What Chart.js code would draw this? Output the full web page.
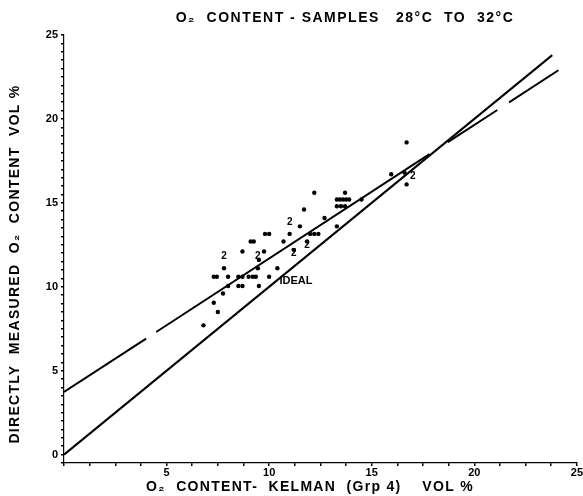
<!DOCTYPE html>
<html lang="en">
  <head>
    <meta charset="UTF-8" />
    <title>O2 content</title>
    <script src="https://cdn.jsdelivr.net/npm/chart.js"></script>
    <style>
      body {
        margin: 0;
        background: #fff;
      }
    </style>
  </head>
  <body>
    <canvas id="myChart" width="583" height="496"></canvas>
    <script>
      // Kelman (Grp 4) O2 content vs directly measured O2 content, vol %
      const kelmanX = [
        6.8, 7.5, 7.3, 7.75, 8.0, 8.5, 8.7, 9.5, 7.3, 7.45, 8.0, 8.5, 8.7, 9.0,
        9.2, 9.35, 10.0, 7.8, 9.45, 10.4, 9.5, 8.7, 9.75, 11.2, 9.1, 9.25, 10.7,
        11.85, 9.8, 10.0, 11.0, 12.0, 12.2, 12.4, 11.5, 13.3, 12.7, 11.7, 13.3,
        13.5, 13.7, 13.3, 13.45, 13.6, 13.75, 13.9, 14.5, 12.2, 13.7, 15.95,
        16.6, 16.7, 16.7,
      ];
      const measuredY = [
        7.7, 8.5, 9.05, 9.6, 10.05, 10.05, 10.05, 10.05, 10.6, 10.6, 10.6, 10.6,
        10.6, 10.6, 10.6, 10.6, 10.6, 11.1, 11.1, 11.1, 11.6, 12.1, 12.1, 12.2,
        12.7, 12.7, 12.7, 12.7, 13.15, 13.15, 13.15, 13.15, 13.15, 13.15, 13.6,
        13.6, 14.1, 14.6, 14.8, 14.8, 14.8, 15.2, 15.2, 15.2, 15.2, 15.2, 15.2,
        15.6, 15.6, 16.7, 16.8, 16.1, 18.6,
      ];
      // points marked "2" (two coincident samples)
      const twoX = [7.8, 9.45, 11.0, 11.2, 11.85, 17.0];
      const twoY = [11.8, 11.8, 13.85, 12.0, 12.45, 16.6];

      const idealX = [0, 23.8];
      const idealY = [0, 23.8];
      const regressionX = [0, 24.1];
      const regressionY = [3.73, 22.9];

      const xTickStep = 1.25;
      const yTickStep = 0.5;

      const chartTitle = "O\u2082  CONTENT - SAMPLES   28°C  TO  32°C";
      const xTitle = "O\u2082  CONTENT-  KELMAN  (Grp 4)    VOL %";
      const yTitle = "DIRECTLY  MEASURED  O\u2082  CONTENT  VOL %";

      const font = "'Liberation Sans', 'DejaVu Sans', sans-serif";
      Chart.defaults.color = "#000";
      Chart.defaults.font.family = font;

      const toPoints = function (xs, ys) {
        return xs.map((x, i) => ({ x: x, y: ys[i] }));
      };

      const textPlugin = {
        id: "texts",
        afterDatasetsDraw(chart) {
          const c = chart.ctx;
          const sx = chart.scales.x;
          const sy = chart.scales.y;
          c.save();
          c.fillStyle = "#000";
          c.textBaseline = "middle";
          c.font = "bold 10px " + font;
          c.textAlign = "center";
          twoX.forEach((x, i) => {
            c.fillText("2", sx.getPixelForValue(x), sy.getPixelForValue(twoY[i]));
          });
          c.textAlign = "left";
          c.font = "bold 11px " + font;
          c.fillText("IDEAL", sx.getPixelForValue(10.5), sy.getPixelForValue(10.35));

          // titles, drawn here so they can be letter-spaced like the lettering
          c.textAlign = "center";
          c.font = "bold 14px " + font;
          c.letterSpacing = "1.5px";
          c.fillText(chartTitle, 345, 18);
          c.letterSpacing = "1.3px";
          c.fillText(xTitle, 310, 487);
          c.translate(15, 264);
          c.rotate(-Math.PI / 2);
          c.fillText(yTitle, 0, 0);
          c.restore();
        },
      };

      const ctx = document.getElementById("myChart");
      const myChart = new Chart(ctx, {
        type: "scatter",
        data: {
          datasets: [
            {
              label: "samples",
              data: toPoints(kelmanX, measuredY),
              backgroundColor: "#000",
              borderColor: "#000",
              pointRadius: 2.2,
              pointBorderWidth: 0,
            },
            {
              label: "ideal",
              data: toPoints(idealX, idealY),
              showLine: true,
              borderColor: "#000",
              borderWidth: 2,
              pointRadius: 0,
            },
            {
              label: "regression",
              data: toPoints(regressionX, regressionY),
              showLine: true,
              borderColor: "#000",
              borderWidth: 2,
              borderDash: [98, 12, 326, 22, 59, 14, 200, 10],
              pointRadius: 0,
            },
          ],
        },
        options: {
          responsive: false,
          animation: false,
          layout: { padding: { top: 35, right: 6, left: 0, bottom: 0 } },
          plugins: {
            legend: { display: false },
            tooltip: { enabled: false },
          },
          scales: {
            x: {
              type: "linear",
              min: 0,
              max: 25,
              afterFit: function (scale) {
                scale.height = 33;
              },
              border: { display: true, color: "#000", width: 1.2, dash: [2, 3] },
              grid: {
                drawOnChartArea: false,
                color: "#000",
                tickLength: 3,
                lineWidth: 1.5,
              },
              ticks: {
                stepSize: xTickStep,
                autoSkip: false,
                maxRotation: 0,
                padding: 0,
                font: { size: 11, weight: "bold" },
                callback: function (v) {
                  return v > 0 && v % 5 === 0 ? String(v) : "";
                },
              },
            },
            y: {
              type: "linear",
              min: -0.5,
              max: 25,
              afterFit: function (scale) {
                scale.width = 64;
              },
              border: { display: true, color: "#000", width: 1.2, dash: [2, 3] },
              grid: {
                drawOnChartArea: false,
                color: "#000",
                tickLength: 3,
                lineWidth: 1.5,
              },
              ticks: {
                stepSize: yTickStep,
                autoSkip: false,
                padding: 3,
                font: { size: 11, weight: "bold" },
                callback: function (v) {
                  return v >= 0 && v % 5 === 0 ? String(v) : "";
                },
              },
            },
          },
        },
        plugins: [textPlugin],
      });
    </script>
  </body>
</html>
